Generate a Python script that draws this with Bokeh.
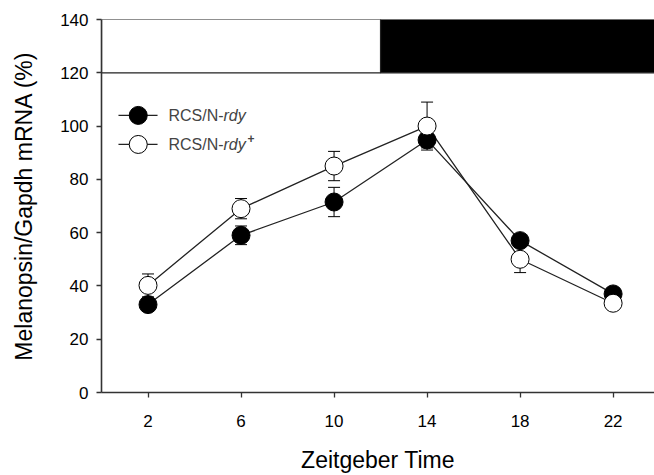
from bokeh.plotting import figure
from bokeh.models import ColumnDataSource, Whisker, TeeHead, Label, Range1d, FixedTicker
from bokeh.embed import file_html
from bokeh.resources import INLINE

# ---- data ----
zt = [2, 6, 10, 14, 18, 22]
rdy_mean = [33.0, 59.0, 71.5, 94.8, 57.0, 37.0]
rdy_err = [1.5, 3.5, 5.5, 3.0, 2.0, 1.5]
wt_mean = [40.2, 69.0, 85.0, 100.0, 50.0, 33.5]
wt_err = [4.3, 3.8, 5.5, 9.0, 5.0, 1.5]
light_left = [0, 12]
light_right = [12, 24]
light_fill = ["white", "black"]
x_ticks = [2, 6, 10, 14, 18, 22]
y_ticks = [0, 20, 40, 60, 80, 100, 120, 140]

FONT = "Liberation Sans"
X_MIN, X_MAX = 0, 23.78

p = figure(width=654, height=475, output_backend="svg", toolbar_location=None,
           x_range=Range1d(X_MIN, X_MAX), y_range=Range1d(0, 140),
           min_border_left=101, min_border_right=0, min_border_top=19, min_border_bottom=83)
p.outline_line_color = None
p.grid.visible = False
p.background_fill_color = "white"

# light/dark bar
p.quad(left=light_left, right=light_right, bottom=120, top=140,
       fill_color=light_fill, line_color="#222222", line_width=1.2)

def add_series(mean, err):
    src = ColumnDataSource(dict(x=zt, y=mean,
                                lo=[m - e for m, e in zip(mean, err)],
                                hi=[m + e for m, e in zip(mean, err)]))
    w = Whisker(base="x", upper="hi", lower="lo", source=src, dimension="height",
                line_color="black", line_width=1,
                upper_head=TeeHead(size=12, line_color="black", line_width=1),
                lower_head=TeeHead(size=12, line_color="black", line_width=1))
    p.add_layout(w)
    p.line("x", "y", source=src, line_color="#222222", line_width=1.3)
    return src

s1 = add_series(rdy_mean, rdy_err)
s2 = add_series(wt_mean, wt_err)
p.scatter("x", "y", source=s1, size=18, fill_color="black", line_color="black", line_width=1)
p.scatter("x", "y", source=s2, size=18, fill_color="white", line_color="black", line_width=1)

# legend (manual)
leg_x0, leg_x1, leg_mx, leg_tx = 0.73, 2.41, 1.58, 2.88
leg_y = [104, 93.1]
leg_fill = ["black", "white"]
for yy, fc in zip(leg_y, leg_fill):
    p.line([leg_x0, leg_x1], [yy, yy], line_color="#222222", line_width=1.3)
    p.scatter([leg_mx], [yy], size=18, fill_color=fc, line_color="black", line_width=1)
    p.add_layout(Label(x=leg_tx, y=yy, text="RCS/N-", text_font=FONT, text_font_size="16px",
                       text_baseline="middle", text_align="left"))
    p.add_layout(Label(x=leg_tx, y=yy, x_offset=55, text="rdy", text_font=FONT,
                       text_font_size="16px", text_font_style="italic",
                       text_baseline="middle", text_align="left"))
p.add_layout(Label(x=leg_tx, y=leg_y[1], x_offset=79, y_offset=6, text="+", text_font=FONT,
                   text_font_size="12px", text_font_style="bold",
                   text_baseline="middle", text_align="left"))

# axes
for ax in (p.xaxis[0], p.yaxis[0]):
    ax.axis_line_color = "#333333"
    ax.axis_line_width = 1.6
    ax.major_tick_line_color = "#333333"
    ax.major_tick_line_width = 1.3
    ax.major_tick_in = 0
    ax.major_tick_out = 5
    ax.minor_tick_line_color = None
    ax.major_label_text_font = FONT
    ax.major_label_text_font_size = "17px"
    ax.major_label_text_color = "black"
    ax.axis_label_text_font = FONT
    ax.axis_label_text_font_size = "23px"
    ax.axis_label_text_font_style = "normal"
    ax.axis_label_text_color = "black"

p.xaxis.ticker = FixedTicker(ticks=x_ticks)
p.yaxis.ticker = FixedTicker(ticks=y_ticks)
p.xaxis.axis_label = "Zeitgeber Time"
p.yaxis.axis_label = "Melanopsin/Gapdh mRNA (%)"
p.xaxis.major_label_standoff = 17
p.yaxis.major_label_standoff = 8
p.xaxis.axis_label_standoff = 17
p.yaxis.axis_label_standoff = 20

open("out.html", "w").write(file_html(p, INLINE))
